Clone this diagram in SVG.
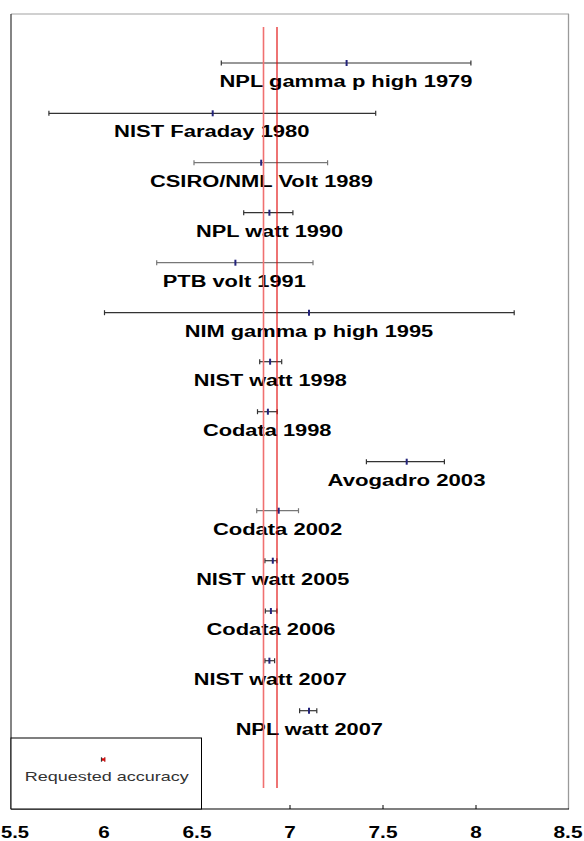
<svg xmlns="http://www.w3.org/2000/svg" width="584" height="841" viewBox="0 0 584 841">
<style>
.bar{stroke:#333;stroke-width:1.2;fill:none}
.bar.lt{stroke:#777}
.cap{stroke:#333;stroke-width:1.2}
.lt .cap{stroke:#777}
.mk{stroke:#23237a;stroke-width:2}
.lbl{font-family:"Liberation Sans",Arial,sans-serif;font-weight:bold;font-size:16px;fill:#000;text-anchor:middle}
.ax{font-family:"Liberation Sans",Arial,sans-serif;font-weight:bold;font-size:17px;fill:#000;text-anchor:middle}
.leg{font-family:"Liberation Sans",Arial,sans-serif;font-size:13px;fill:#333;text-anchor:middle}
</style>
<rect x="0" y="0" width="584" height="841" fill="#fff"/>
<g id="frame">
<line x1="11" y1="14" x2="569" y2="14" stroke="#c0c0c0" stroke-width="1.5"/>
<line x1="568.5" y1="14" x2="568.5" y2="809" stroke="#9a9a9a" stroke-width="1.3"/>
<line x1="11" y1="14" x2="11" y2="809" stroke="#333" stroke-width="1.2"/>
</g>
<g id="axis">
<line x1="11" y1="809" x2="569" y2="809" stroke="#000" stroke-width="1.2"/>
<g stroke="#000" stroke-width="1">
<line x1="104" y1="805" x2="104" y2="809"/>
<line x1="197" y1="805" x2="197" y2="809"/>
<line x1="290" y1="805" x2="290" y2="809"/>
<line x1="383" y1="805" x2="383" y2="809"/>
<line x1="476" y1="805" x2="476" y2="809"/>
</g>
<text class="ax" x="15" y="838" textLength="28" lengthAdjust="spacingAndGlyphs">5.5</text>
<text class="ax" x="104" y="838" textLength="11.5" lengthAdjust="spacingAndGlyphs">6</text>
<text class="ax" x="197" y="838" textLength="29" lengthAdjust="spacingAndGlyphs">6.5</text>
<text class="ax" x="290" y="838" textLength="11.5" lengthAdjust="spacingAndGlyphs">7</text>
<text class="ax" x="383" y="838" textLength="29" lengthAdjust="spacingAndGlyphs">7.5</text>
<text class="ax" x="476" y="838" textLength="11.5" lengthAdjust="spacingAndGlyphs">8</text>
<text class="ax" x="568" y="838" textLength="29" lengthAdjust="spacingAndGlyphs">8.5</text>
</g>
<g id="legend">
<rect x="11" y="738" width="190.5" height="71" fill="#fff" stroke="#000" stroke-width="1"/>
<line x1="101.5" y1="759.5" x2="104.5" y2="759.5" stroke="#e00" stroke-width="2.5"/>
<line x1="101.5" y1="757.3" x2="101.5" y2="761.7" stroke="#333" stroke-width="1.2"/>
<line x1="104.8" y1="757.3" x2="104.8" y2="761.7" stroke="#a00" stroke-width="1.2"/>
<text class="leg" x="106.7" y="781" textLength="164" lengthAdjust="spacingAndGlyphs">Requested accuracy</text>
</g>
<g id="npl-1979">
<line class="bar" x1="221.3" y1="63" x2="470.9" y2="63"/>
<line class="cap" x1="221.3" y1="60.5" x2="221.3" y2="65.5"/><line class="cap" x1="470.9" y1="60.5" x2="470.9" y2="65.5"/>
<line class="mk" x1="346.6" y1="60" x2="346.6" y2="66"/>
<text class="lbl" x="346" y="87.3" textLength="253" lengthAdjust="spacingAndGlyphs">NPL gamma p high 1979</text>
</g>
<g id="nist-faraday-1980">
<line class="bar" x1="48.9" y1="113.3" x2="375.7" y2="113.3"/>
<line class="cap" x1="48.9" y1="110.8" x2="48.9" y2="115.8"/><line class="cap" x1="375.7" y1="110.8" x2="375.7" y2="115.8"/>
<line class="mk" x1="212.7" y1="110.3" x2="212.7" y2="116.3"/>
<text class="lbl" x="211.8" y="137" textLength="195.5" lengthAdjust="spacingAndGlyphs">NIST Faraday 1980</text>
</g>
<g id="csiro-1989" class="lt">
<line class="bar lt" x1="194" y1="162.7" x2="327.6" y2="162.7"/>
<line class="cap" x1="194" y1="160.2" x2="194" y2="165.2"/><line class="cap" x1="327.6" y1="160.2" x2="327.6" y2="165.2"/>
<line class="mk" x1="261.2" y1="159.7" x2="261.2" y2="165.7"/>
<text class="lbl" x="261.4" y="186.7" textLength="223" lengthAdjust="spacingAndGlyphs">CSIRO/NML Volt 1989</text>
</g>
<g id="npl-watt-1990">
<line class="bar" x1="243.7" y1="212.7" x2="292.9" y2="212.7"/>
<line class="cap" x1="243.7" y1="210.2" x2="243.7" y2="215.2"/><line class="cap" x1="292.9" y1="210.2" x2="292.9" y2="215.2"/>
<line class="mk" x1="269.4" y1="209.7" x2="269.4" y2="215.7"/>
<text class="lbl" x="269.6" y="236.7" textLength="147" lengthAdjust="spacingAndGlyphs">NPL watt 1990</text>
</g>
<g id="ptb-1991" class="lt">
<line class="bar lt" x1="156.7" y1="262.7" x2="313" y2="262.7"/>
<line class="cap" x1="156.7" y1="260.2" x2="156.7" y2="265.2"/><line class="cap" x1="313" y1="260.2" x2="313" y2="265.2"/>
<line class="mk" x1="235.4" y1="259.7" x2="235.4" y2="265.7"/>
<text class="lbl" x="234.3" y="286.7" textLength="143" lengthAdjust="spacingAndGlyphs">PTB volt 1991</text>
</g>
<g id="nim-1995">
<line class="bar" x1="104.5" y1="312.7" x2="514.2" y2="312.7"/>
<line class="cap" x1="104.5" y1="310.2" x2="104.5" y2="315.2"/><line class="cap" x1="514.2" y1="310.2" x2="514.2" y2="315.2"/>
<line class="mk" x1="309" y1="309.7" x2="309" y2="315.7"/>
<text class="lbl" x="309" y="336.7" textLength="248.5" lengthAdjust="spacingAndGlyphs">NIM gamma p high 1995</text>
</g>
<g id="nist-watt-1998">
<line class="bar" x1="259.7" y1="361.7" x2="281.7" y2="361.7"/>
<line class="cap" x1="259.7" y1="359.2" x2="259.7" y2="364.2"/><line class="cap" x1="281.7" y1="359.2" x2="281.7" y2="364.2"/>
<line class="mk" x1="270.1" y1="358.7" x2="270.1" y2="364.7"/>
<text class="lbl" x="270.3" y="385.7" textLength="153" lengthAdjust="spacingAndGlyphs">NIST watt 1998</text>
</g>
<g id="codata-1998">
<line class="bar" x1="257.5" y1="411.7" x2="277.2" y2="411.7"/>
<line class="cap" x1="257.5" y1="409.2" x2="257.5" y2="414.2"/><line class="cap" x1="277.2" y1="409.2" x2="277.2" y2="414.2"/>
<line class="mk" x1="267.9" y1="408.7" x2="267.9" y2="414.7"/>
<text class="lbl" x="267.2" y="435.7" textLength="128.6" lengthAdjust="spacingAndGlyphs">Codata 1998</text>
</g>
<g id="avogadro-2003">
<line class="bar" x1="366.4" y1="461.7" x2="444.4" y2="461.7"/>
<line class="cap" x1="366.4" y1="459.2" x2="366.4" y2="464.2"/><line class="cap" x1="444.4" y1="459.2" x2="444.4" y2="464.2"/>
<line class="mk" x1="406.7" y1="458.7" x2="406.7" y2="464.7"/>
<text class="lbl" x="406.5" y="485.7" textLength="158" lengthAdjust="spacingAndGlyphs">Avogadro 2003</text>
</g>
<g id="codata-2002" class="lt">
<line class="bar lt" x1="256.7" y1="510.7" x2="298.5" y2="510.7"/>
<line class="cap" x1="256.7" y1="508.2" x2="256.7" y2="513.2"/><line class="cap" x1="298.5" y1="508.2" x2="298.5" y2="513.2"/>
<line class="mk" x1="278.7" y1="507.7" x2="278.7" y2="513.7"/>
<text class="lbl" x="277.6" y="534.7" textLength="129.4" lengthAdjust="spacingAndGlyphs">Codata 2002</text>
</g>
<g id="nist-watt-2005">
<line class="bar" x1="264.9" y1="560.7" x2="276.9" y2="560.7"/>
<line class="cap" x1="264.9" y1="558.2" x2="264.9" y2="563.2"/><line class="cap" x1="276.9" y1="558.2" x2="276.9" y2="563.2"/>
<line class="mk" x1="272.8" y1="557.7" x2="272.8" y2="563.7"/>
<text class="lbl" x="272.8" y="584.7" textLength="153.3" lengthAdjust="spacingAndGlyphs">NIST watt 2005</text>
</g>
<g id="codata-2006">
<line class="bar" x1="265.3" y1="611" x2="276.9" y2="611"/>
<line class="cap" x1="265.3" y1="608.5" x2="265.3" y2="613.5"/><line class="cap" x1="276.9" y1="608.5" x2="276.9" y2="613.5"/>
<line class="mk" x1="270.9" y1="608" x2="270.9" y2="614"/>
<text class="lbl" x="271" y="635" textLength="129" lengthAdjust="spacingAndGlyphs">Codata 2006</text>
</g>
<g id="nist-watt-2007">
<line class="bar" x1="264.9" y1="660.7" x2="274.6" y2="660.7"/>
<line class="cap" x1="264.9" y1="658.2" x2="264.9" y2="663.2"/><line class="cap" x1="274.6" y1="658.2" x2="274.6" y2="663.2"/>
<line class="mk" x1="269.4" y1="657.7" x2="269.4" y2="663.7"/>
<text class="lbl" x="270.3" y="684.7" textLength="153" lengthAdjust="spacingAndGlyphs">NIST watt 2007</text>
</g>
<g id="npl-watt-2007">
<line class="bar" x1="299.6" y1="710.7" x2="316.8" y2="710.7"/>
<line class="cap" x1="299.6" y1="708.2" x2="299.6" y2="713.2"/><line class="cap" x1="316.8" y1="708.2" x2="316.8" y2="713.2"/>
<line class="mk" x1="309" y1="707.7" x2="309" y2="713.7"/>
<text class="lbl" x="309.3" y="734.7" textLength="147.3" lengthAdjust="spacingAndGlyphs">NPL watt 2007</text>
</g>
<g id="reference-lines">
<line x1="263.5" y1="27" x2="263.5" y2="788" stroke="#f07070" stroke-width="1.6"/>
<line x1="277" y1="27" x2="277" y2="788" stroke="#e00000" stroke-width="1.1"/>
</g>
</svg>
